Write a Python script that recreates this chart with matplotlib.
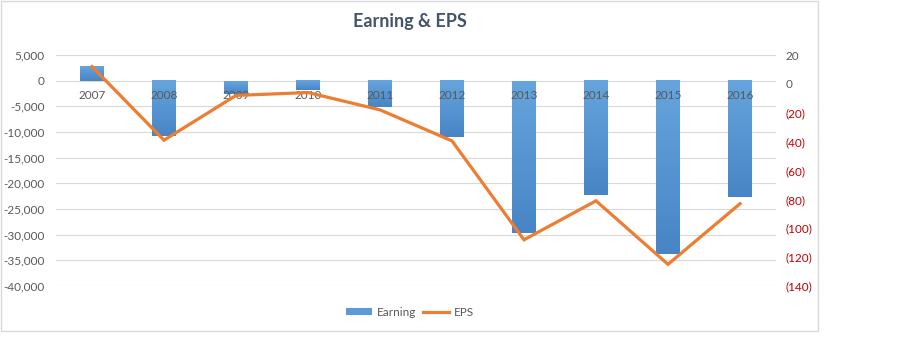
import matplotlib.pyplot as plt
import matplotlib.ticker as mticker
import numpy as np
from matplotlib.colors import LinearSegmentedColormap
from matplotlib.patches import Rectangle, Patch
from matplotlib.lines import Line2D

years = ["2007", "2008", "2009", "2010", "2011", "2012", "2013", "2014", "2015", "2016"]
earning = [2900, -10800, -2500, -1900, -5200, -11000, -29600, -22300, -33800, -22700]
eps = [12, -39, -8, -6, -18, -39.5, -108, -81, -125, -83]

bar_color = "#5B9BD5"
line_color = "#ED7D31"
text_color = "#595959"
grid_color = "#D9D9D9"

plt.rcParams.update({
    "font.family": ["Lato", "DejaVu Sans"],
    "font.size": 8,
})

fig = plt.figure(figsize=(9, 3.44), dpi=100)
ax1 = fig.add_axes([56 / 900, 1 - 286 / 344, 720 / 900, 231 / 344])

x = list(range(len(years)))

# --- Earning bars (left axis), Excel-like vertical gradient ---
bars = ax1.bar(x, earning, width=0.32, color=bar_color, zorder=2)
grad_cmap = LinearSegmentedColormap.from_list("bar_grad", ["#4785C6", "#66A4DD"])
grad = np.linspace(0, 1, 64).reshape(-1, 1)
for b in bars:
    y_lo = min(b.get_y(), b.get_y() + b.get_height())
    y_hi = max(b.get_y(), b.get_y() + b.get_height())
    ax1.imshow(grad, extent=[b.get_x(), b.get_x() + b.get_width(), y_lo, y_hi],
               origin="lower", cmap=grad_cmap, aspect="auto", zorder=2,
               interpolation="bicubic")
    b.set_visible(False)

ax1.set_ylim(-40000, 5000)
ax1.set_xlim(-0.5, len(years) - 0.5)
ax1.yaxis.set_major_locator(mticker.MultipleLocator(5000))
ax1.yaxis.set_major_formatter(mticker.FuncFormatter(lambda v, _: f"{v:,.0f}"))
for v in ax1.get_yticks():
    if -40000 <= v <= 5000:
        ax1.axhline(v, color=grid_color, linewidth=0.8, zorder=1)
for s in ax1.spines.values():
    s.set_visible(False)

# category labels sit on the zero line, drawn over the bars
ax1.set_axisbelow(False)
ax1.spines["bottom"].set_position(("data", 0))
ax1.set_xticks(x)
ax1.set_xticklabels(years)
ax1.tick_params(axis="x", length=0, pad=7, labelcolor=text_color, labelsize=8.5)
ax1.tick_params(axis="y", length=0, pad=8, labelcolor=text_color, labelsize=8.5)

# --- EPS line (right axis) ---
ax2 = ax1.twinx()
ax2.plot(x, eps, color=line_color, linewidth=2.3, zorder=3, solid_joinstyle="miter")
ax2.set_ylim(-140, 20)
ax2.yaxis.set_major_locator(mticker.MultipleLocator(20))
ax2.yaxis.set_major_formatter(
    mticker.FuncFormatter(lambda v, _: f"({abs(v):.0f})" if v < 0 else f"{v:.0f}")
)
for s in ax2.spines.values():
    s.set_visible(False)
ax2.tick_params(axis="y", length=0, pad=7, labelsize=8.5)
fig.canvas.draw()
for lbl, val in zip(ax2.get_yticklabels(), ax2.get_yticks()):
    lbl.set_color("#C00000" if val < 0 else text_color)

# --- Title ---
fig.text(410 / 900, 1 - 22 / 344, "Earning & EPS", ha="center", va="center",
         fontsize=13, fontweight="bold", color="#44546A")

# --- Legend ---
handles = [
    Patch(facecolor=bar_color, label="Earning"),
    Line2D([0], [0], color=line_color, linewidth=2.3, label="EPS"),
]
fig.legend(handles=handles, loc="center", bbox_to_anchor=(410 / 900, 1 - 312 / 344),
           ncol=2, frameon=False, fontsize=8.5, labelcolor=text_color,
           handlelength=2.2, handleheight=0.6, columnspacing=0.6, handletextpad=0.4)

# --- Chart border ---
fig.patches.append(Rectangle((1 / 900, 1 - 331 / 344), 817 / 900, 330 / 344,
                             transform=fig.transFigure, fill=False,
                             edgecolor=grid_color, linewidth=1))

fig.savefig("out.png", dpi=100, facecolor="white")
